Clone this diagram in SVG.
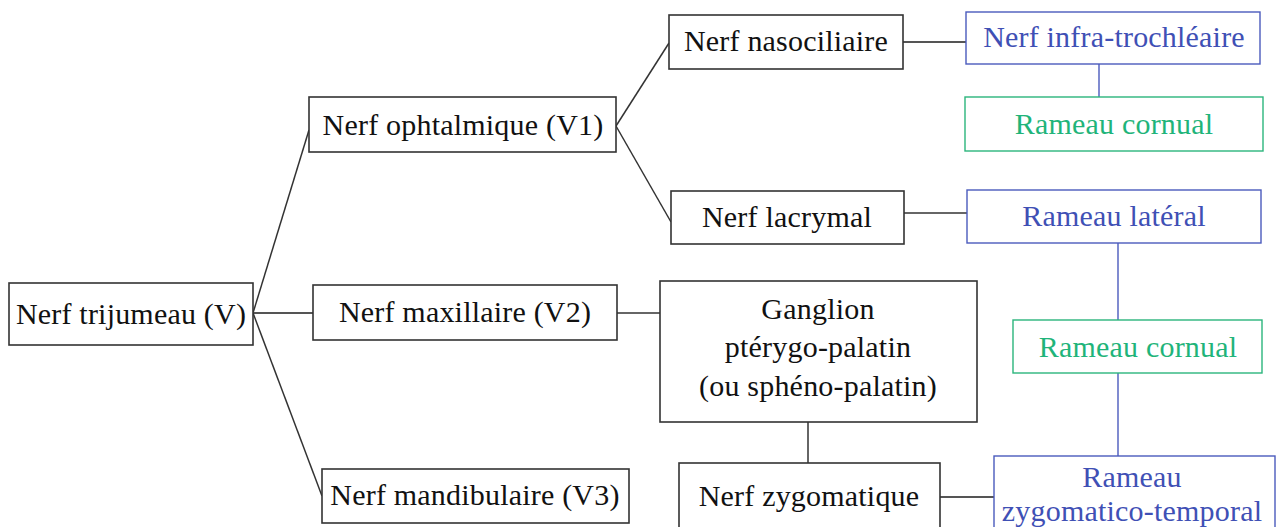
<svg xmlns="http://www.w3.org/2000/svg" width="1276" height="527" viewBox="0 0 1276 527">
<style>
text{font-family:"Liberation Serif","Times New Roman",serif;font-size:30px;text-anchor:middle;letter-spacing:0.2px}
.k rect{fill:#fff;stroke:#333;stroke-width:1.6}
.k text{fill:#111}
.b rect{fill:#fff;stroke:#4a5bbd;stroke-width:1.4}
.b text{fill:#3f50b5}
.g rect{fill:#fff;stroke:#2bb57c;stroke-width:1.4}
.g text{fill:#1fb47a}
.c line{stroke:#333;stroke-width:1.5}
.c line.bl{stroke:#4a5bbd;stroke-width:1.4}
.c line.gr{stroke:#555;stroke-width:2}
</style>
<rect width="1276" height="527" fill="#fff"/>
<g class="c" id="connectors">
<line x1="253" y1="313" x2="309" y2="130"/>
<line x1="253" y1="313" x2="313" y2="313" class="gr"/>
<line x1="253" y1="313" x2="322" y2="496"/>
<line x1="616" y1="126" x2="669" y2="43"/>
<line x1="616" y1="126" x2="671" y2="222"/>
<line x1="903" y1="42" x2="966" y2="42" class="gr"/>
<line x1="904" y1="213" x2="967" y2="213"/>
<line x1="617" y1="313" x2="660" y2="313"/>
<line x1="808" y1="422" x2="808" y2="463"/>
<line x1="940" y1="497" x2="994" y2="497" class="gr"/>
<line x1="1099" y1="64" x2="1099" y2="97" class="bl"/>
<line x1="1118" y1="243" x2="1118" y2="320" class="bl"/>
<line x1="1118" y1="373" x2="1118" y2="456" class="bl"/>
</g>
<g id="trijumeau" class="k"><rect x="9" y="283" width="244" height="62"/><text x="131" y="324">Nerf trijumeau (V)</text></g>
<g id="v1" class="k"><rect x="309" y="97" width="307" height="55"/><text x="463" y="135">Nerf ophtalmique (V1)</text></g>
<g id="v2" class="k"><rect x="313" y="285" width="304" height="55"/><text x="465" y="322">Nerf maxillaire (V2)</text></g>
<g id="v3" class="k"><rect x="322" y="469" width="307" height="54"/><text x="475" y="505">Nerf mandibulaire (V3)</text></g>
<g id="nasociliaire" class="k"><rect x="669" y="15" width="234" height="54"/><text x="786" y="51">Nerf nasociliaire</text></g>
<g id="lacrymal" class="k"><rect x="671" y="191" width="233" height="53"/><text x="787" y="227">Nerf lacrymal</text></g>
<g id="ganglion" class="k"><rect x="660" y="281" width="317" height="141"/><text x="818" y="319">Ganglion</text><text x="818" y="357">ptérygo-palatin</text><text x="818" y="396">(ou sphéno-palatin)</text></g>
<g id="zygomatique" class="k"><rect x="679" y="463" width="261" height="66"/><text x="809" y="506">Nerf zygomatique</text></g>
<g id="infratrochleaire" class="b"><rect x="966" y="12" width="294" height="52"/><text x="1114" y="47">Nerf infra-trochléaire</text></g>
<g id="cornual1" class="g"><rect x="965" y="97" width="298" height="54"/><text x="1114" y="134">Rameau cornual</text></g>
<g id="lateral" class="b"><rect x="967" y="190" width="294" height="53"/><text x="1114" y="226">Rameau latéral</text></g>
<g id="cornual2" class="g"><rect x="1013" y="320" width="249" height="53"/><text x="1138" y="357">Rameau cornual</text></g>
<g id="zygotemporal" class="b"><rect x="994" y="456" width="281" height="75"/><text x="1132" y="487">Rameau</text><text x="1132" y="521">zygomatico-temporal</text></g>
</svg>
